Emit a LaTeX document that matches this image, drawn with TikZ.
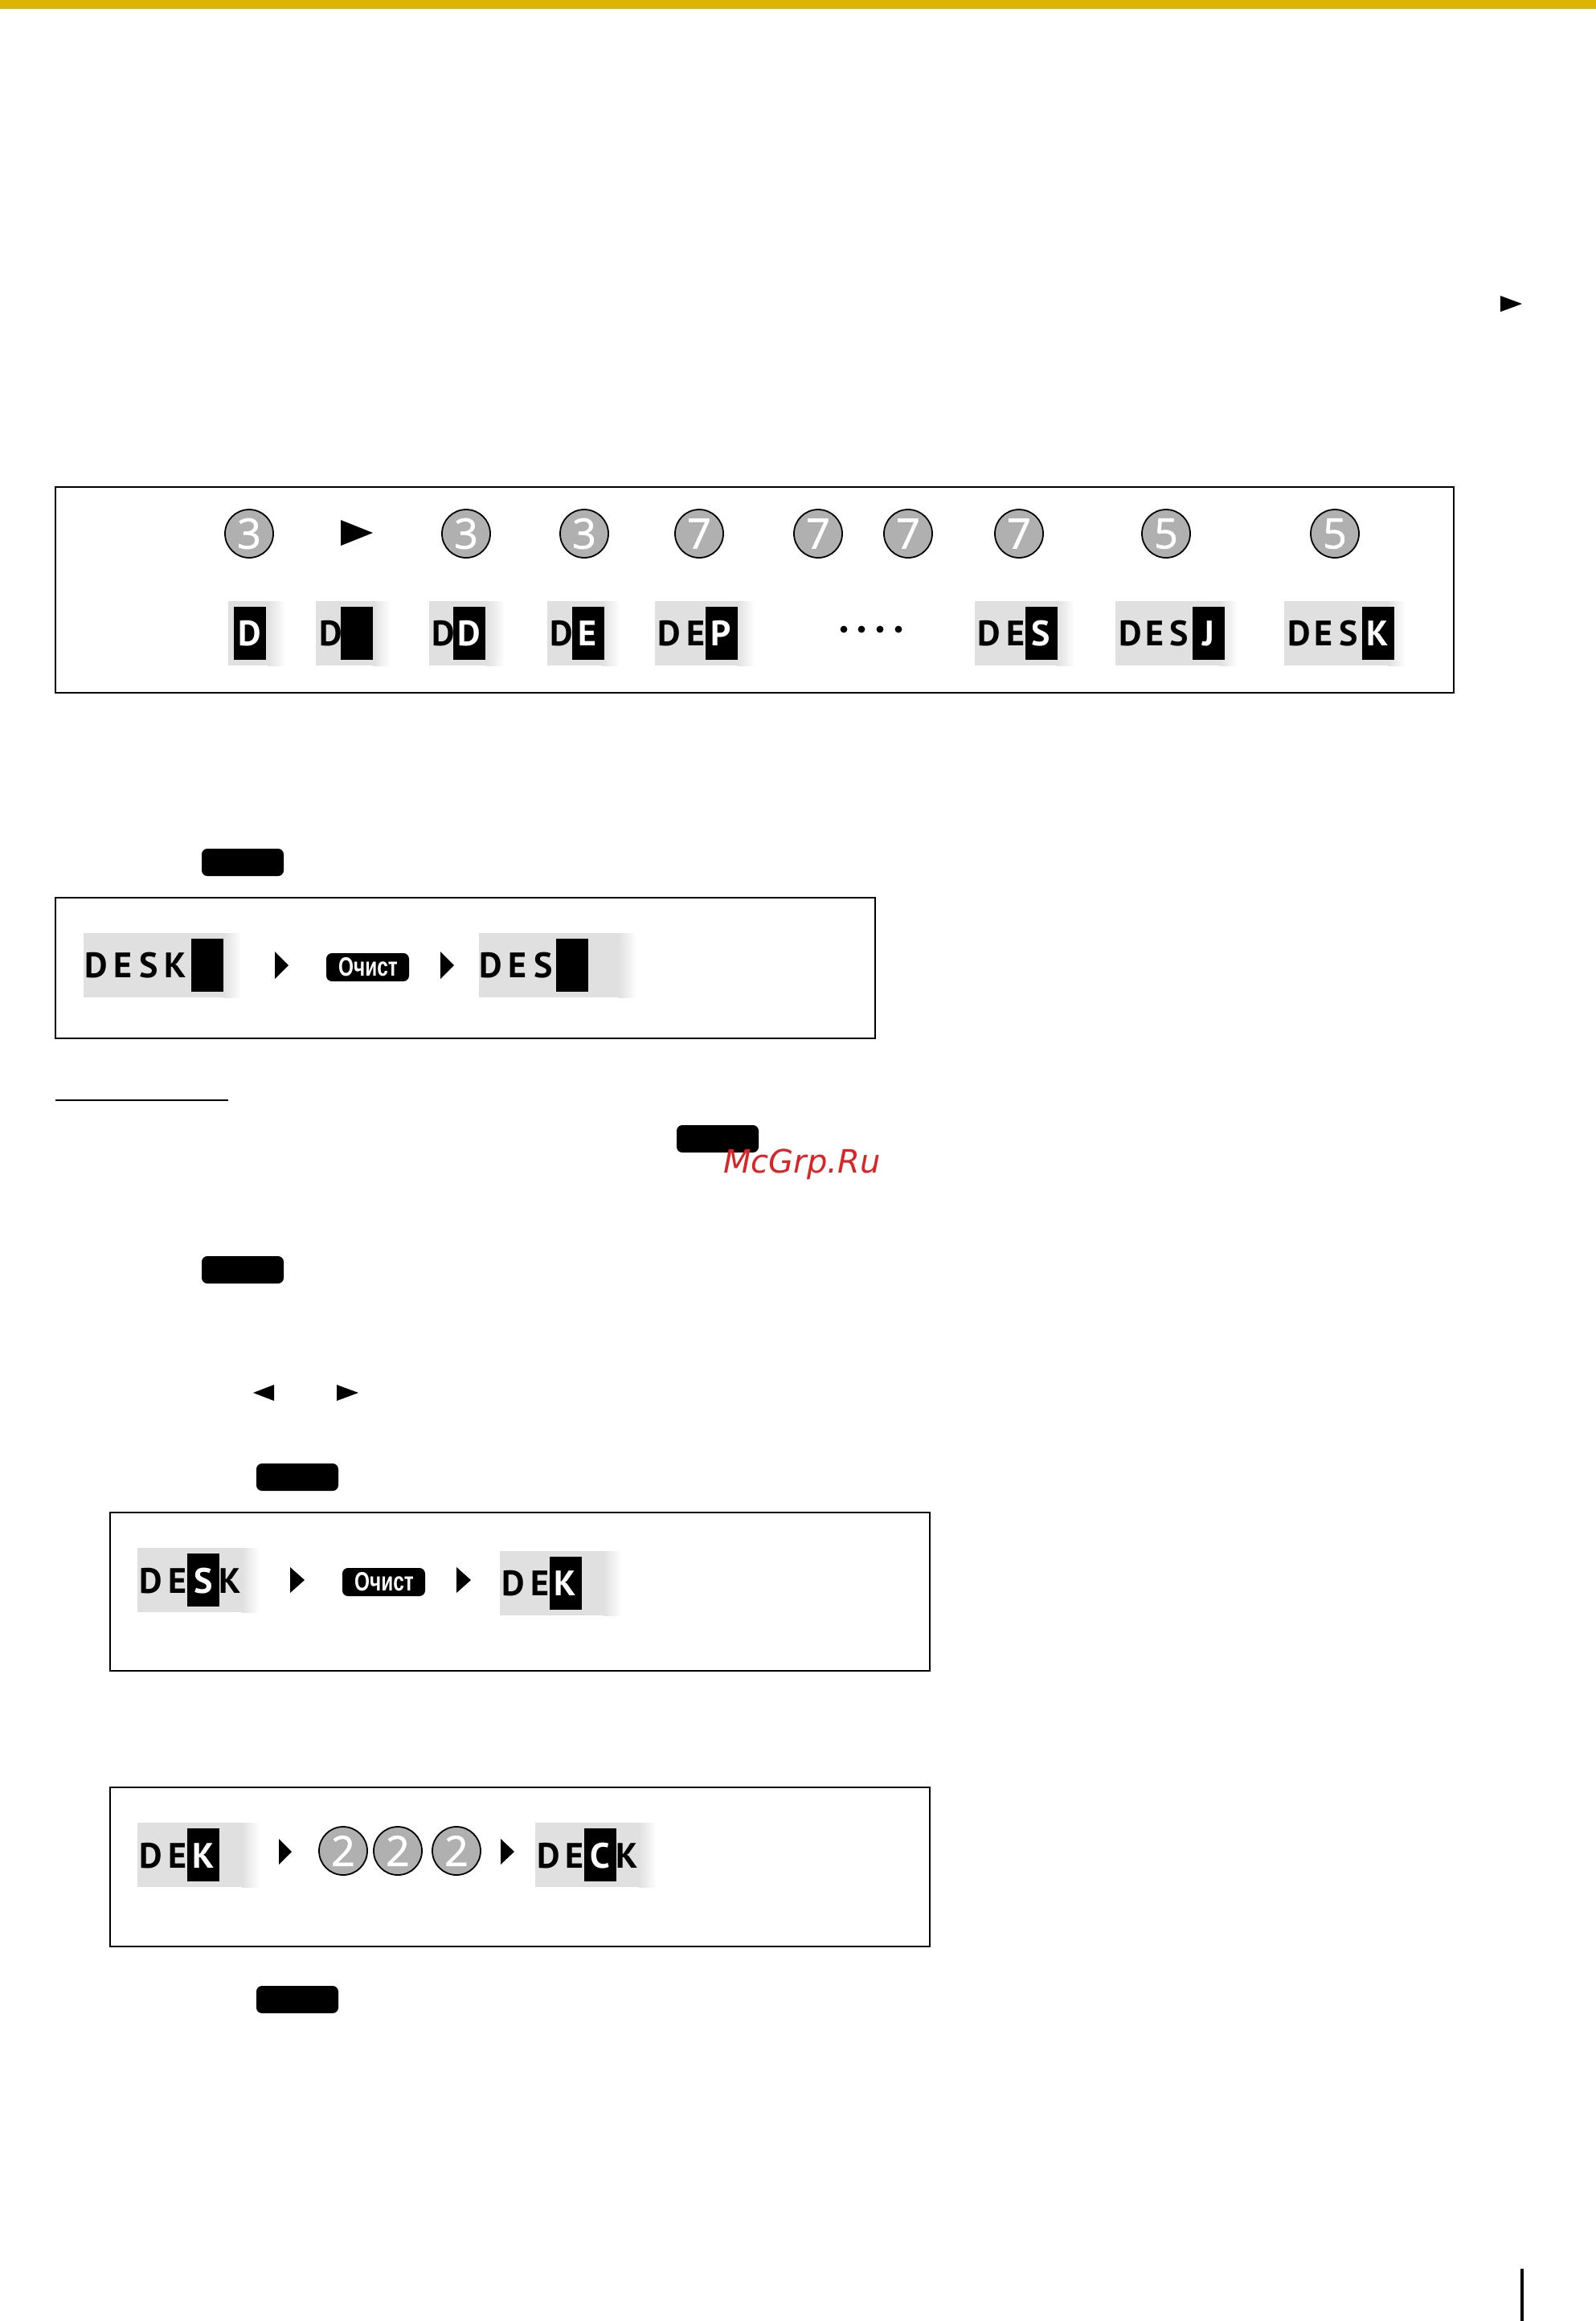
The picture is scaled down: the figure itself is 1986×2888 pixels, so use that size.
\documentclass[tikz,border=0pt]{standalone}
\usepackage{fontspec}
\setmainfont{PT Sans}
\newfontfamily\keyfont{Liberation Sans}
\newfontfamily\markfont{DejaVu Sans}
\newfontfamily\dialfont{Open Sans}[FakeBold=1.2]
\definecolor{headbar}{HTML}{DDB500}
\definecolor{dialgray}{HTML}{B0B0B0}
\definecolor{stripgray}{HTML}{E0E0E0}
\definecolor{markred}{HTML}{DC2326}
\begin{document}
\begin{tikzpicture}[
    x=0.5pt, y=-0.5pt,
    panel/.style={draw=black, line width=1pt},
    keycap/.style={fill=black, rounded corners=3.5pt},
    dial/.style={circle, draw=black, line width=0.9pt, fill=dialgray, minimum size=30pt, inner sep=0pt, text=white, font=\dialfont\fontsize{26}{26}\selectfont},
    glyph/.style={inner sep=0pt, text height=15.5pt, text depth=0pt, font=\fontsize{22}{22}\selectfont\bfseries},
    clearkey/.style={inner sep=0pt, text=white, font=\keyfont\fontsize{16.5}{16.5}\selectfont\bfseries}
  ]
    \useasboundingbox (0,0) rectangle (1986,2888);

    % Top bar and page rule
    \fill[headbar] (0,0) rectangle (1986,11);
    \fill[black] (1892,2823) rectangle (1896,2888);

    % Frames
    \draw[panel] (69,606) rectangle (1809,862);
    \draw[panel] (69,1117) rectangle (1089,1292);
    \draw[panel] (137,1882) rectangle (1157,2079);
    \draw[panel] (137,2224) rectangle (1157,2422);
    \draw[line width=1.2pt] (69,1369) -- (284,1369);

    % Black keys
    \foreach \xa/\ya in {251/1056, 842/1400, 251/1563, 319/1821, 319/2471}
      \fill[keycap] (\xa,\ya) rectangle (\xa+102,\ya+34);
    \foreach \xa/\ya in {406/1186, 426/1951}
      \fill[keycap] (\xa,\ya) rectangle (\xa+103,\ya+35);
    \node[clearkey] (clearA) at (458,1203) {\scalebox{.74}[1]{Очист}};
    \node[clearkey] (clearB) at (478,1968) {\scalebox{.74}[1]{Очист}};

    % Display strips: left, right, cursor, centre
    \foreach \xa/\xb/\xc/\yc in {284/355/291/788, 393/486/424/788, 534/628/564/788, 681/771/712/788,
        815/939/878/788, 1213/1337/1276/788, 1388/1540/1484/788, 1598/1749/1695/788,
        104/300/238/1201, 596/792/692/1201,
        171/323/233/1966, 622/773/684/1970,
        171/323/233/2308, 666/817/727/2308} {
      \fill[stripgray] (\xa,\yc-40) rectangle (\xb-22,\yc+40);
      \shade[left color=stripgray, right color=white] (\xb-22,\yc-40) rectangle (\xb,\yc+40);
      \fill[black] (\xc,\yc-33) rectangle (\xc+40,\yc+33);
    }

    % Letters
    \foreach \x/\y/\ch/\tone in {311/788/D/white, 412/788/D/black, 552/788/D/black, 584/788/D/white,
        699/788/D/black, 731/788/E/white, 833/788/D/black, 866/788/E/black, 897/788/P/white,
        1231/788/D/black, 1264/788/E/black, 1295/788/S/white,
        1407/788/D/black, 1437/788/E/black, 1467/788/S/black, 1504/788/J/white,
        1617/788/D/black, 1647/788/E/black, 1678/788/S/black, 1714/788/K/white,
        120/1201/D/black, 153/1201/E/black, 185/1201/S/black, 218/1201/K/black,
        611/1201/D/black, 644/1201/E/black, 676/1201/S/black,
        188/1967/D/black, 221/1967/E/black, 253/1967/S/white, 286/1967/K/black,
        639/1970/D/black, 672/1970/E/black, 703/1970/K/white,
        188/2309/D/black, 221/2309/E/black, 253/2309/K/white,
        683/2309/D/black, 715/2309/E/black, 747/2309/C/white, 780/2309/K/black}
      \node[glyph, text=\tone] (ch-\x-\y) at (\x,\y) {\ch};

    % Dials
    \foreach \x/\y/\num in {310/664/3, 580/664/3, 727/664/3, 870/664/7, 1018/664/7, 1130/664/7,
        1268/664/7, 1451/664/5, 1661/664/5, 427/2303/2, 495/2303/2, 568/2303/2}
      \node[dial] (dial-\x) at (\x,\y) {\num};

    % Pointers
    \foreach \xa/\xb/\yc/\hh in {424/464/663/16, 1867/1894/378/10, 419/446/1733/10, 341/315/1733/10,
        342/359/1201/17, 548/565/1201/17, 361/379/1966/16, 568/586/1966/16, 347/363/2304/16, 623/640/2304/16}
      \fill[black] (\xa,\yc-\hh) -- (\xb,\yc) -- (\xa,\yc+\hh) -- cycle;

    % Dots
    \foreach \x in {1050,1072,1095,1118}
      \fill[black] (\x,783) circle (2.2pt);

    % Watermark
    \node[inner sep=0pt, anchor=base west, text=markred, font=\markfont\fontsize{20}{20}\selectfont\itshape] (mark) at (900,1459) {McGrp.Ru};
\end{tikzpicture}
\end{document}
